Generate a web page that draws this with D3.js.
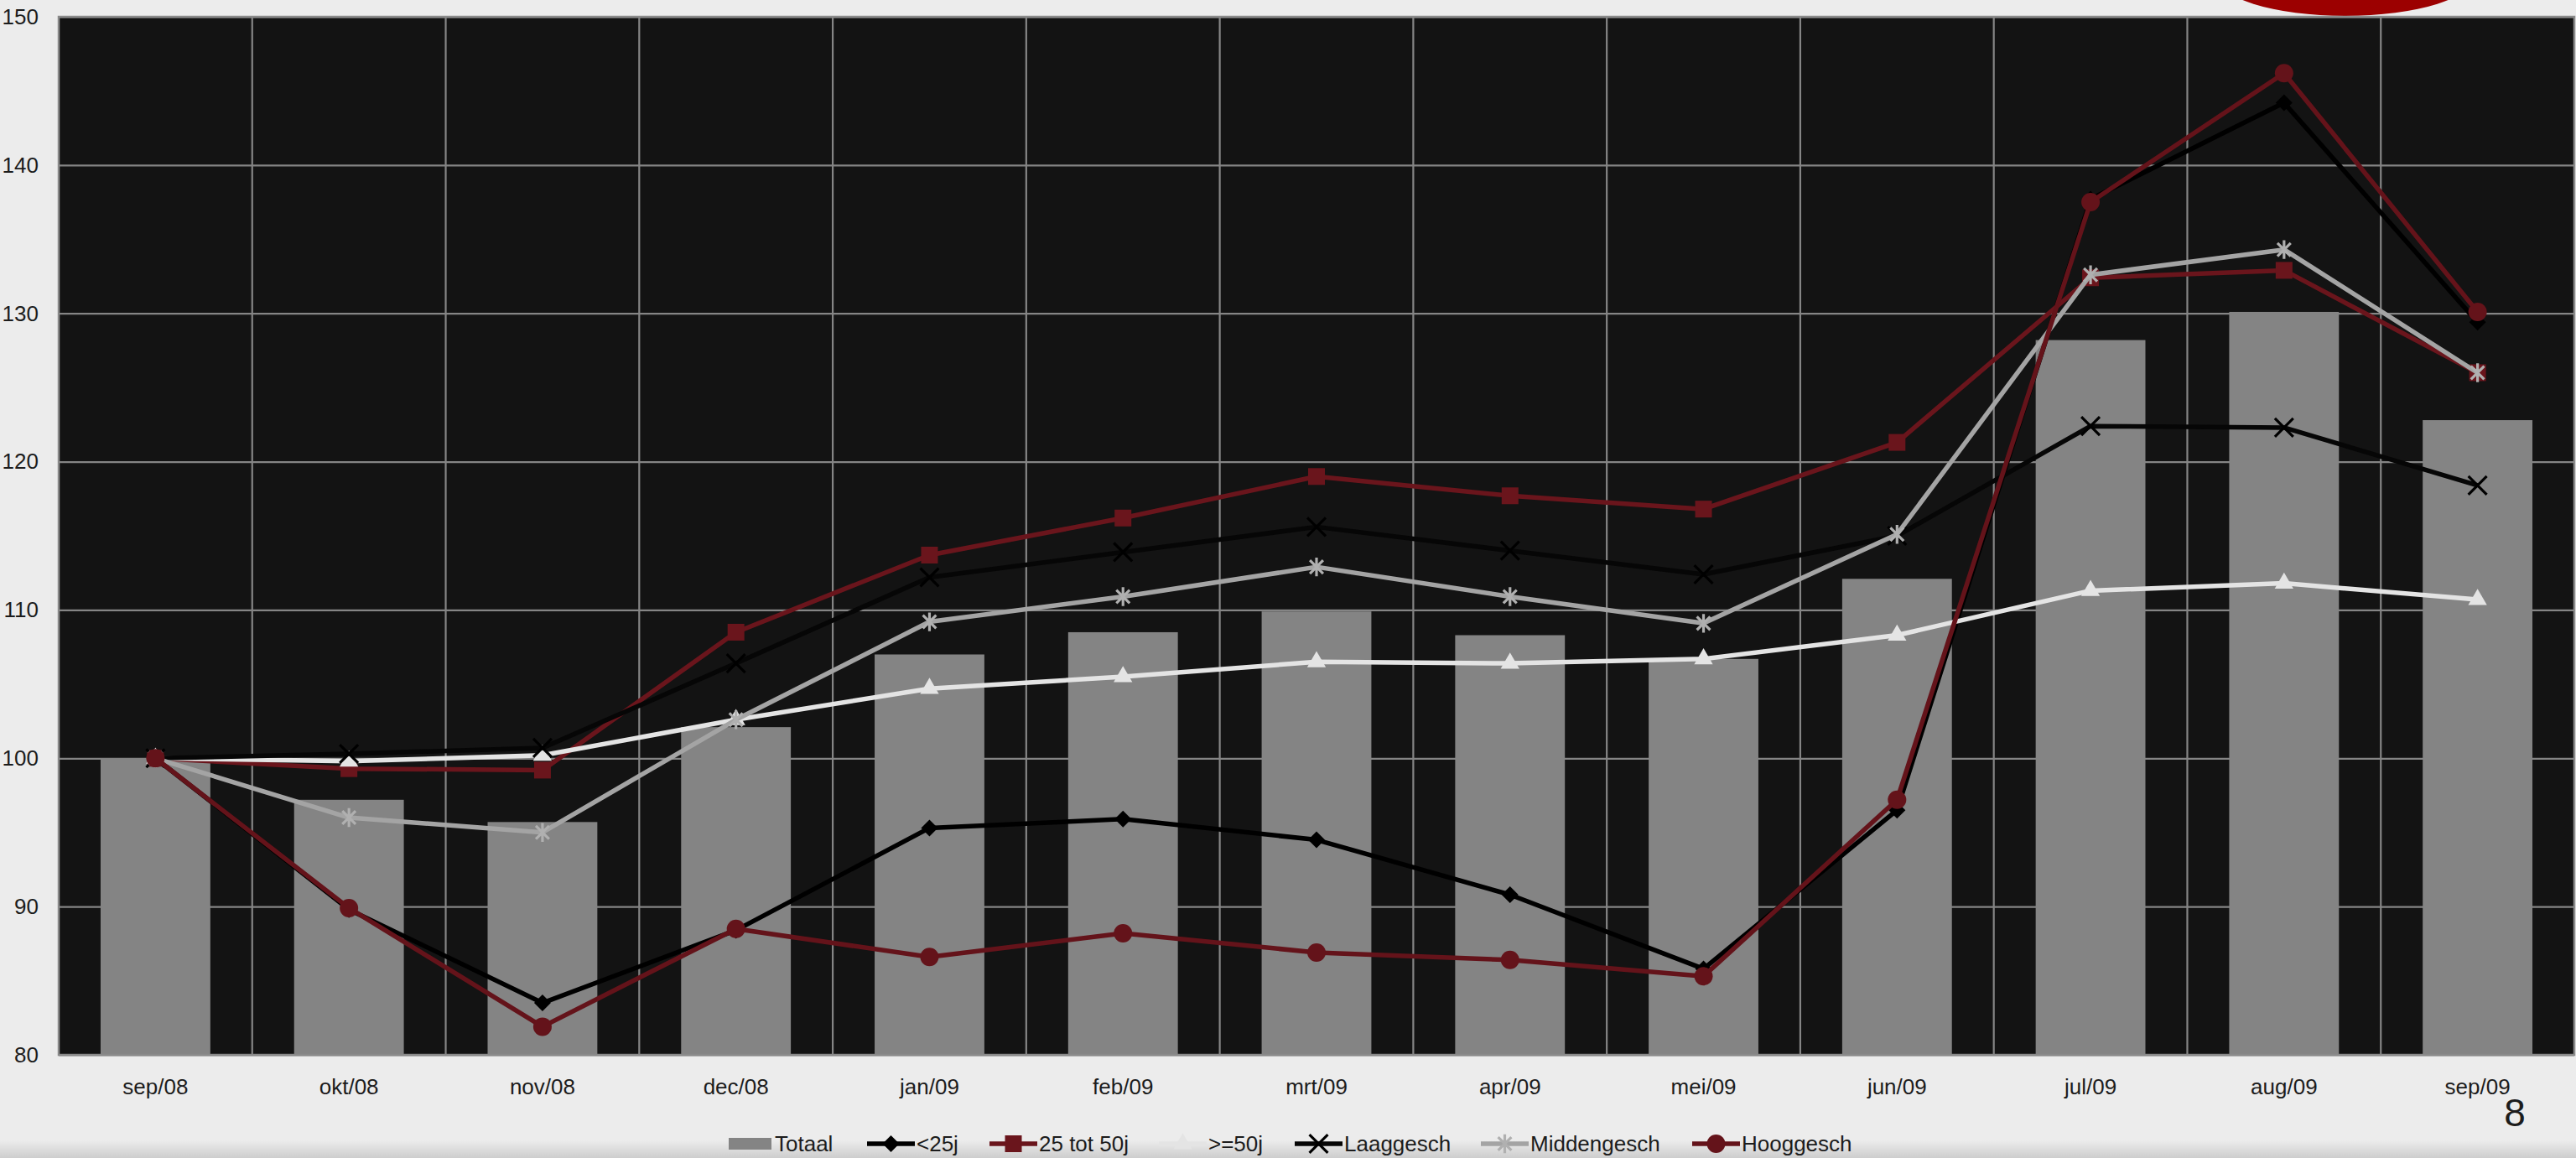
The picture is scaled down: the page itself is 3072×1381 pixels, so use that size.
<!DOCTYPE html>
<html>
<head>
<meta charset="utf-8">
<script src="https://cdn.jsdelivr.net/npm/d3@7"></script>
<style>
  html, body { margin: 0; padding: 0; background: #ececec; }
  svg { display: block; }
  text { font-family: "Liberation Sans", Arial, sans-serif; fill: #1c1c1c; }
</style>
</head>
<body>
<svg id="chart" width="3072" height="1381"></svg>
<script>
// Index series, sep/08 = 100
const months = ['sep/08','okt/08','nov/08','dec/08','jan/09','feb/09','mrt/09','apr/09','mei/09','jun/09','jul/09','aug/09','sep/09'];
const totaal  = [100, 97.2, 95.7, 102.1, 107.0, 108.5, 109.9, 108.3, 106.7, 112.1, 128.2, 130.1, 122.8];
const onder25 = [100, 89.8, 83.5, 88.4, 95.3, 95.9, 94.5, 90.8, 85.8, 96.5, 137.7, 144.2, 129.4];
const tot50   = [100, 99.3, 99.2, 108.5, 113.7, 116.2, 119.0, 117.7, 116.8, 121.3, 132.4, 132.9, 126.0];
const boven50 = [100, 99.8, 100.2, 102.6, 104.7, 105.5, 106.5, 106.4, 106.7, 108.3, 111.3, 111.8, 110.7];
const laag    = [100, 100.3, 100.7, 106.4, 112.2, 113.9, 115.6, 114.0, 112.4, 115.0, 122.4, 122.3, 118.4];
const midden  = [100, 96.0, 95.0, 102.6, 109.2, 110.9, 112.9, 110.9, 109.1, 115.1, 132.6, 134.3, 126.0];
const hoog    = [100, 89.9, 81.9, 88.5, 86.6, 88.2, 86.9, 86.4, 85.3, 97.2, 137.5, 146.2, 130.1];
const yTicks  = [80, 90, 100, 110, 120, 130, 140, 150];
const pageNumber = '8';

const W = 3072, H = 1381;
const plot = { left: 70, right: 3070, top: 20, bottom: 1258 };

const svg = d3.select('#chart');

// soft shading along the bottom edge of the slide
const defs = svg.append('defs');
const shade = defs.append('linearGradient').attr('id', 'bottomShade')
  .attr('x1', 0).attr('y1', 0).attr('x2', 0).attr('y2', 1);
shade.append('stop').attr('offset', '0%').attr('stop-color', '#000').attr('stop-opacity', 0);
shade.append('stop').attr('offset', '100%').attr('stop-color', '#000').attr('stop-opacity', 0.13);
svg.append('rect').attr('x', 0).attr('y', 1360).attr('width', W).attr('height', H - 1360)
  .attr('fill', 'url(#bottomShade)');

// red badge peeking in at the top
svg.append('ellipse').attr('cx', 2797).attr('cy', -30).attr('rx', 155).attr('ry', 49)
  .attr('fill', '#9c0000');

const x = d3.scaleBand().domain(months).range([plot.left, plot.right]).paddingInner(0).paddingOuter(0);
const y = d3.scaleLinear().domain([80, 150]).range([plot.bottom, plot.top]);
const bw = x.bandwidth();
const cx = m => x(m) + bw / 2;

// plot background
svg.append('rect').attr('x', plot.left).attr('y', plot.top)
  .attr('width', plot.right - plot.left).attr('height', plot.bottom - plot.top)
  .attr('fill', '#131313');

// horizontal gridlines + y labels
const yAxis = svg.append('g').attr('transform', `translate(${plot.left},0)`)
  .call(d3.axisLeft(y).tickValues(yTicks).tickSize(-(plot.right - plot.left)).tickPadding(24));
yAxis.select('.domain').remove();
yAxis.selectAll('.tick line').attr('stroke', '#858585').attr('stroke-width', 2.2);
yAxis.selectAll('.tick text').style('font-size', '26px').attr('fill', '#1c1c1c')
  .style('font-family', '"Liberation Sans", Arial, sans-serif');

// vertical gridlines on category boundaries
svg.append('g').selectAll('line').data(months.slice(1)).join('line')
  .attr('x1', d => x(d)).attr('x2', d => x(d))
  .attr('y1', plot.top).attr('y2', plot.bottom)
  .attr('stroke', '#858585').attr('stroke-width', 2.2);

// Totaal bars
const barW = bw * 0.567;
svg.append('g').selectAll('rect').data(months.map((m, i) => ({ m, v: totaal[i] }))).join('rect')
  .attr('x', d => cx(d.m) - barW / 2)
  .attr('y', d => y(d.v))
  .attr('width', barW)
  .attr('height', d => y(80) - y(d.v))
  .attr('fill', '#848484');

// plot border
svg.append('rect').attr('x', plot.left).attr('y', plot.top)
  .attr('width', plot.right - plot.left).attr('height', plot.bottom - plot.top)
  .attr('fill', 'none').attr('stroke', '#8a8a8a').attr('stroke-width', 2.5);

// x labels
const xAxis = svg.append('g').attr('transform', `translate(0,${plot.bottom})`)
  .call(d3.axisBottom(x).tickSize(0).tickPadding(29));
xAxis.select('.domain').remove();
xAxis.selectAll('.tick text').style('font-size', '26px').attr('fill', '#1c1c1c')
  .style('font-family', '"Liberation Sans", Arial, sans-serif');

// marker shapes
const asterisk = {
  draw(ctx, size) {
    const r = Math.sqrt(size) / 2;
    const d = r * Math.SQRT1_2;
    ctx.moveTo(0, -r); ctx.lineTo(0, r);
    ctx.moveTo(-d, -d); ctx.lineTo(d, d);
    ctx.moveTo(-d, d); ctx.lineTo(d, -d);
  }
};
const cross = {
  draw(ctx, size) {
    const r = Math.sqrt(size) / 2;
    ctx.moveTo(-r, -r); ctx.lineTo(r, r);
    ctx.moveTo(-r, r); ctx.lineTo(r, -r);
  }
};

const darkRed = '#6a151c';
const seriesList = [
  { name: '<25j',        values: onder25, color: '#000000', type: d3.symbolDiamond2, size: 255, fill: '#000000' },
  { name: '25 tot 50j',  values: tot50,   color: darkRed,   type: d3.symbolSquare,   size: 400, fill: darkRed },
  { name: '>=50j',       values: boven50, color: '#e4e4e4', type: d3.symbolTriangle, size: 215, fill: '#e4e4e4' },
  { name: 'Laaggesch',   values: laag,    color: '#060606', type: cross,             size: 480, stroke: '#000000' },
  { name: 'Middengesch', values: midden,  color: '#a4a4a4', type: asterisk,          size: 500, stroke: '#b0b0b0' },
  { name: 'Hooggesch',   values: hoog,    color: '#64131a', type: d3.symbolCircle,   size: 380, fill: '#64131a' }
];

const line = d3.line().x(d => cx(d.m)).y(d => y(d.v));

function drawMarker(g, s, tx, ty) {
  const p = g.append('path')
    .attr('transform', `translate(${tx},${ty})`)
    .attr('d', d3.symbol().type(s.type).size(s.size)());
  if (s.fill) p.attr('fill', s.fill);
  else p.attr('fill', 'none').attr('stroke', s.stroke).attr('stroke-width', 3.2);
}

seriesList.forEach(s => {
  const pts = months.map((m, i) => ({ m, v: s.values[i] }));
  const g = svg.append('g');
  g.append('path').datum(pts).attr('d', line)
    .attr('fill', 'none').attr('stroke', s.color).attr('stroke-width', 5.5)
    .attr('stroke-linejoin', 'round');
  pts.forEach(p => drawMarker(g, s, cx(p.m), y(p.v)));
});

// legend: swatch/key start of each entry
const legendStarts = [869, 1034, 1180, 1382, 1544, 1766, 2018];
const legend = svg.append('g');
const legY = 1364;
legend.append('rect').attr('x', legendStarts[0]).attr('y', legY - 7).attr('width', 51).attr('height', 14)
  .attr('fill', '#848484');
legend.append('text').attr('x', legendStarts[0] + 55).attr('y', legY + 9).style('font-size', '26px').text('Totaal');
seriesList.forEach((s, i) => {
  const lx = legendStarts[i + 1];
  legend.append('line').attr('x1', lx).attr('x2', lx + 57).attr('y1', legY).attr('y2', legY)
    .attr('stroke', s.color).attr('stroke-width', 5.5);
  drawMarker(legend, s, lx + 28.5, legY);
  legend.append('text').attr('x', lx + 59).attr('y', legY + 9).style('font-size', '26px').text(s.name);
});

// page number
svg.append('text').attr('x', 2999).attr('y', 1343).attr('text-anchor', 'middle')
  .style('font-size', '46px').text(pageNumber);
</script>
</body>
</html>
